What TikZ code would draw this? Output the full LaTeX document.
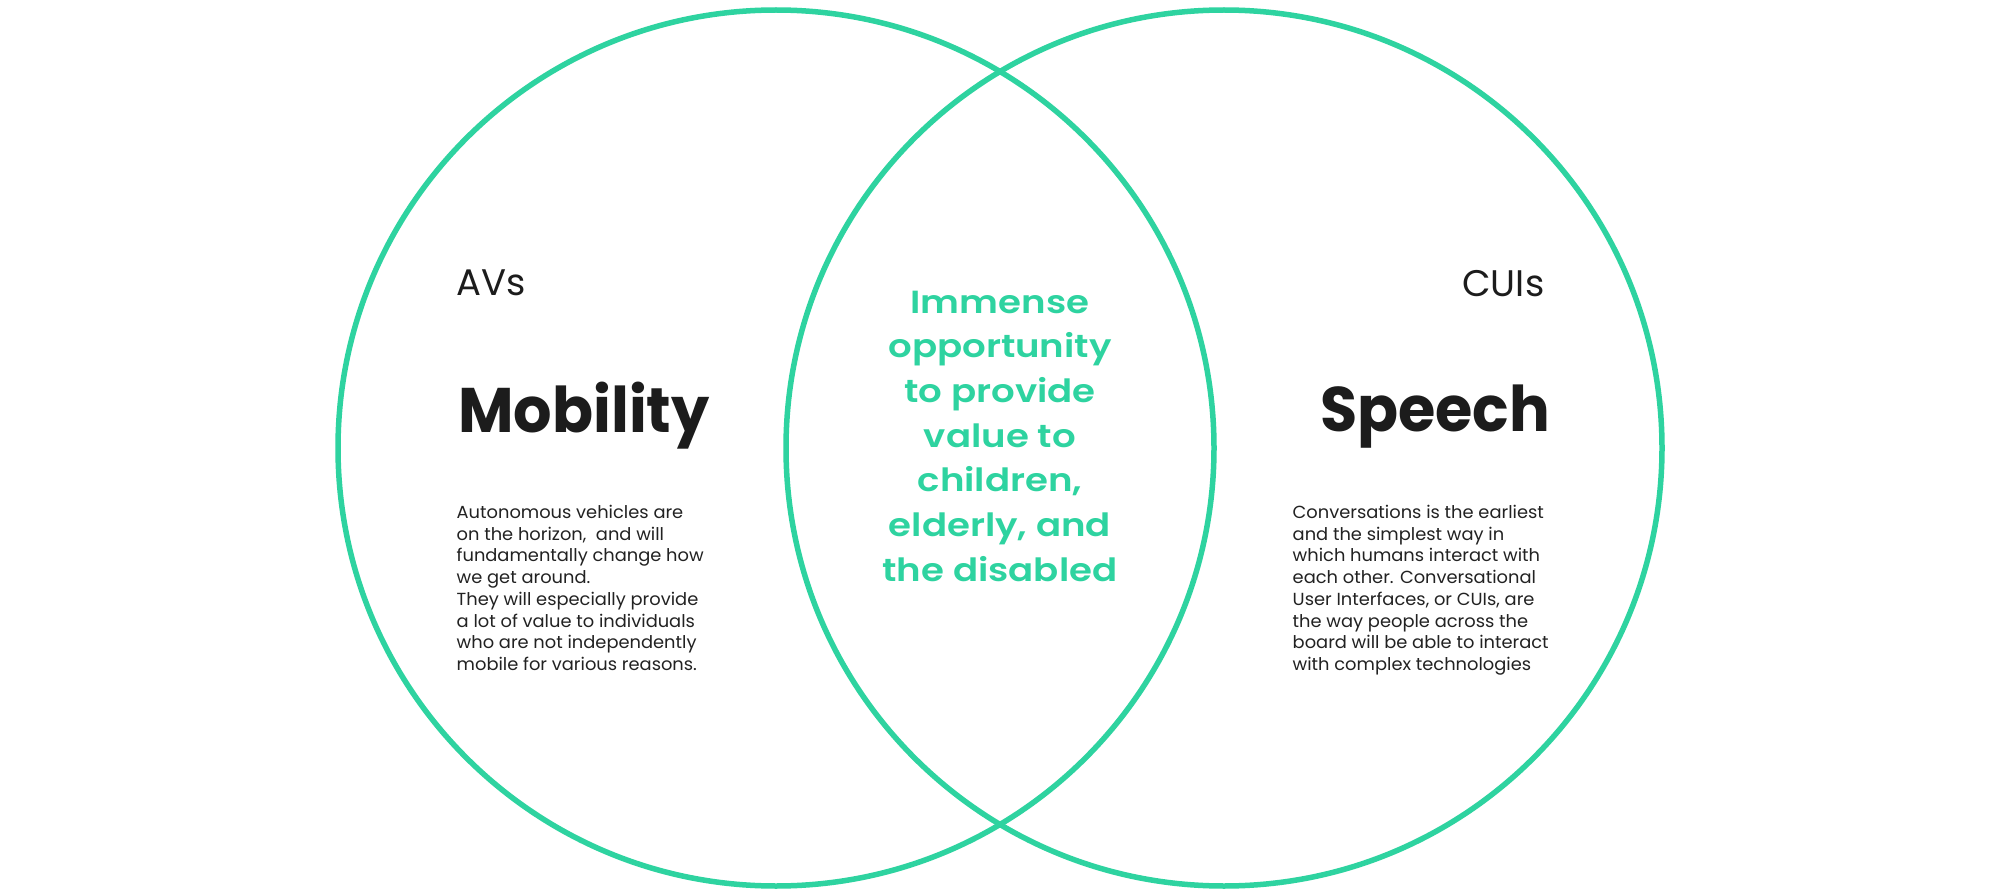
\documentclass[tikz,border=0pt]{standalone}
\usepackage{fontspec}
\setmainfont{Poppins}
\newfontfamily\semifont{Poppins SemiBold}[FakeStretch=1.16]
\newfontfamily\headfont{Poppins Bold}[FakeStretch=0.96]
\newfontfamily\bodyfont{Poppins}[FakeStretch=1.02]
\definecolor{vgreen}{RGB}{46,211,160}
\definecolor{ink}{RGB}{28,28,28}
\definecolor{bodyink}{RGB}{34,34,34}
\tikzset{
  ring/.style={draw=vgreen, line width=5.5pt},
  label/.style={inner sep=0pt, text=ink, font=\fontsize{37}{44}\selectfont},
  heading/.style={inner sep=0pt, text=ink, font=\headfont\fontsize{63}{70}\selectfont},
  body/.style={inner sep=0pt, text=bodyink, font=\bodyfont\fontsize{17.5}{21.76}\selectfont},
  centre/.style={inner sep=0pt, text=vgreen, font=\semifont\fontsize{32}{44.7}\selectfont}
}
\begin{document}
\begin{tikzpicture}[x=1pt,y=-1pt]
\useasboundingbox[fill=white] (0,0) rectangle (2000,896);
\draw[ring] (776,448) circle[radius=438pt];
\draw[ring] (1224,448) circle[radius=438pt];
\node[label, anchor=base west] (avs) at (456.5,295.7) {AVs};
\node[label, anchor=base east] (cuis) at (1544.5,296.7) {CUIs};
\node[heading, anchor=base west] (mob) at (458,432.7) {Mobility};
\node[heading, anchor=base east] (spe) at (1550.5,431.7) {Speech};
\node[body, anchor=base west] (lbody) at (456.5,518.3) {\begin{tabular}[t]{@{}l@{}}
Autonomous vehicles are\\
on the horizon,\ \ and will\\
fundamentally change how\\
we get around.\\
They will especially provide\\
a lot of value to individuals\\
who are not independently\\
mobile for various reasons.
\end{tabular}};
\node[body, anchor=base west] (rbody) at (1292.5,518.3) {\begin{tabular}[t]{@{}l@{}}
Conversations is the earliest\\
and the simplest way in\\
which humans interact with\\
each other. Conversational\\
User Interfaces, or CUIs, are\\
the way people across the\\
board will be able to interact\\
with complex technologies
\end{tabular}};
\node[centre, anchor=base] (mid) at (1000,313) {\begin{tabular}[t]{@{}c@{}}
Immense\\
opportunity\\
to provide\\
value to\\
children,\\
elderly, and\\
the disabled
\end{tabular}};
\end{tikzpicture}
\end{document}
